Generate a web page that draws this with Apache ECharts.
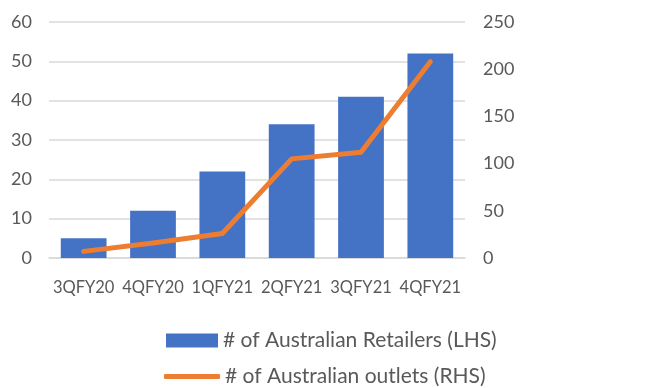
<!DOCTYPE html>
<html>
<head>
<meta charset="utf-8">
<script src="https://cdn.jsdelivr.net/npm/echarts@6/dist/echarts.min.js"></script>
<style>
  html, body { margin: 0; padding: 0; background: #fff; }
  #chart { width: 656px; height: 388px; }
</style>
</head>
<body>
<div id="chart"></div>
<script>
// 季度
const quarters = ['3QFY20', '4QFY20', '1QFY21', '2QFY21', '3QFY21', '4QFY21']
// 零售商数量 (左轴)
const retailers = [5, 12, 22, 34, 41, 52]
// 门店数量 (右轴)
const outlets = [7, 16, 26, 105, 112, 208]
const leftTicks = { min: 0, max: 60, interval: 10 }
const rightTicks = { min: 0, max: 250, interval: 50 }

const font = 'Lato, "Open Sans", sans-serif'
const txt = '#595959'

let chart = echarts.init(document.getElementById('chart'))
chart.setOption({
    animation: false,
    grid: { left: 49, right: 191, top: 22, bottom: 130 },
    legend: [{
        left: 166, top: 330, padding: 0,
        itemWidth: 52, itemHeight: 14, icon: 'rect', itemGap: 5,
        textStyle: { color: txt, fontSize: 21, fontFamily: font },
        data: ['# of Australian Retailers (LHS)']
    }, {
        left: 164, top: 366, padding: 0,
        itemWidth: 56, itemHeight: 5, icon: 'roundRect', itemGap: 2,
        textStyle: { color: txt, fontSize: 21, fontFamily: font },
        data: ['# of Australian outlets (RHS)']
    }],
    xAxis: {
        type: 'category',
        data: quarters,
        axisLine: { lineStyle: { color: '#d9d9d9', width: 1.5 } },
        axisTick: { show: false },
        axisLabel: { color: txt, fontSize: 16.5, fontFamily: font, margin: 21, interval: 0 }
    },
    yAxis: [{
        type: 'value',
        ...leftTicks,
        axisLabel: { color: txt, fontSize: 18, fontFamily: font, margin: 17 },
        splitLine: { lineStyle: { color: '#d9d9d9', width: 1.5 } }
    }, {
        type: 'value',
        ...rightTicks,
        position: 'right',
        axisLabel: { color: txt, fontSize: 18, fontFamily: font, margin: 18 },
        splitLine: { show: false }
    }],
    series: [{
        name: '# of Australian Retailers (LHS)',
        type: 'bar',
        data: retailers,
        barWidth: '66%',
        itemStyle: { color: '#4472C4' }
    }, {
        name: '# of Australian outlets (RHS)',
        type: 'line',
        yAxisIndex: 1,
        data: outlets,
        symbol: 'none',
        lineStyle: { color: '#ED7D31', width: 5, cap: 'round', join: 'round' },
        itemStyle: { color: '#ED7D31' }
    }]
})
</script>
</body>
</html>
